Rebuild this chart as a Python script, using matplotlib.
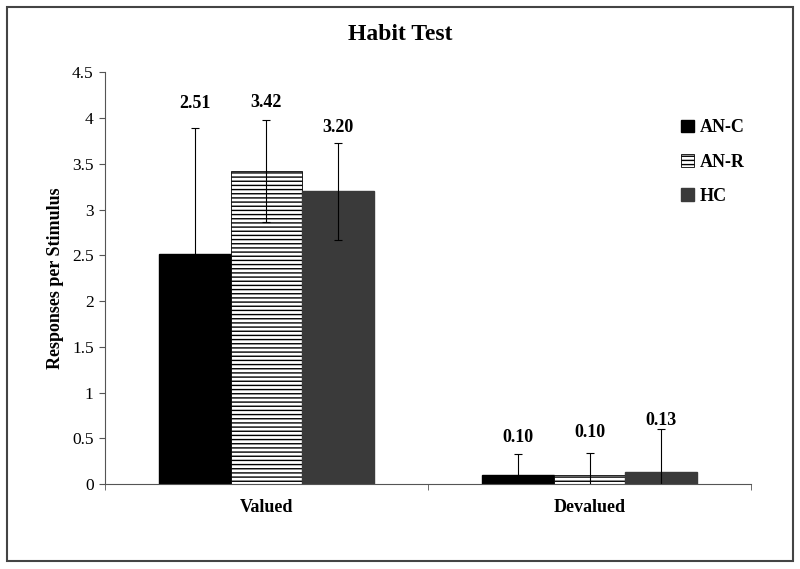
import numpy as np
import matplotlib
matplotlib.use('Agg')
import matplotlib.pyplot as plt
from matplotlib.patches import Rectangle

#===============================================================================
categories = ["Valued", "Devalued"]
groups     = ["AN-C", "AN-R", "HC"]
means = {"AN-C": [2.51, 0.10],
         "AN-R": [3.42, 0.10],
         "HC"  : [3.20, 0.13]}
errors = {"AN-C": [1.38, 0.23],
          "AN-R": [0.56, 0.24],
          "HC"  : [0.53, 0.47]}
label_y = {"AN-C": [4.16, 0.51],
           "AN-R": [4.17, 0.56],
           "HC"  : [3.90, 0.70]}
yticks = [0, 0.5, 1, 1.5, 2, 2.5, 3, 3.5, 4, 4.5]
#===============================================================================
plt.rcParams['font.family'] = ['Liberation Serif', 'DejaVu Serif']

fig = plt.figure(figsize=(8, 5.69), dpi=100)
ax = fig.add_axes([0.131, 0.149, 0.808, 0.724])

styles = {"AN-C": dict(color="black", edgecolor="black"),
          "AN-R": dict(color="white", edgecolor="black", hatch="----", linewidth=0.6),
          "HC"  : dict(color="#3a3a3a", edgecolor="#3a3a3a")}

width = 0.221
x = np.arange(len(categories))
for i, g in enumerate(groups):
    pos = x + (i - 1) * width
    ax.bar(pos, means[g], width, label=g, **styles[g])
    ax.errorbar(pos, means[g], yerr=errors[g], fmt='none', ecolor='black',
                elinewidth=0.8, capsize=3, capthick=0.8)
    for p, m, ly in zip(pos, means[g], label_y[g]):
        ax.text(p, ly, "%.2f" % m, ha='center', va='center',
                fontsize=13, fontweight='bold')

ax.set_xlim(-0.5, 1.5)
ax.set_ylim(0, 4.5)
ax.set_yticks(yticks)
ax.set_yticklabels([("%g" % t) for t in yticks], fontsize=12.5)
ax.set_xticks(x)
ax.set_xticklabels(categories, fontsize=13, fontweight='bold')
ax.tick_params(axis='x', which='major', length=0, pad=11)
ax.set_xticks([-0.5, 0.5, 1.5], minor=True)
ax.tick_params(axis='x', which='minor', length=4, color='#555555')
ax.tick_params(axis='y', length=4, color='#555555', pad=4)

for s in ['top', 'right']:
    ax.spines[s].set_visible(False)
for s in ['left', 'bottom']:
    ax.spines[s].set_color('#555555')
    ax.spines[s].set_linewidth(0.8)

ax.set_ylabel("Responses per Stimulus", fontsize=13, fontweight='bold', labelpad=6)
fig.suptitle("Habit Test", fontsize=17, fontweight='bold', y=0.958)

leg = ax.legend(loc='upper left', bbox_to_anchor=(0.867, 0.925), frameon=False,
                handlelength=0.7, handleheight=0.7, handletextpad=0.3,
                labelspacing=0.95, prop={'weight': 'bold', 'size': 13})

# outer border
fig.patches.append(Rectangle((0.009, 0.014), 0.982, 0.973, transform=fig.transFigure,
                             fill=False, edgecolor='#444444', linewidth=1.5))

plt.savefig("out.png", dpi=100)
